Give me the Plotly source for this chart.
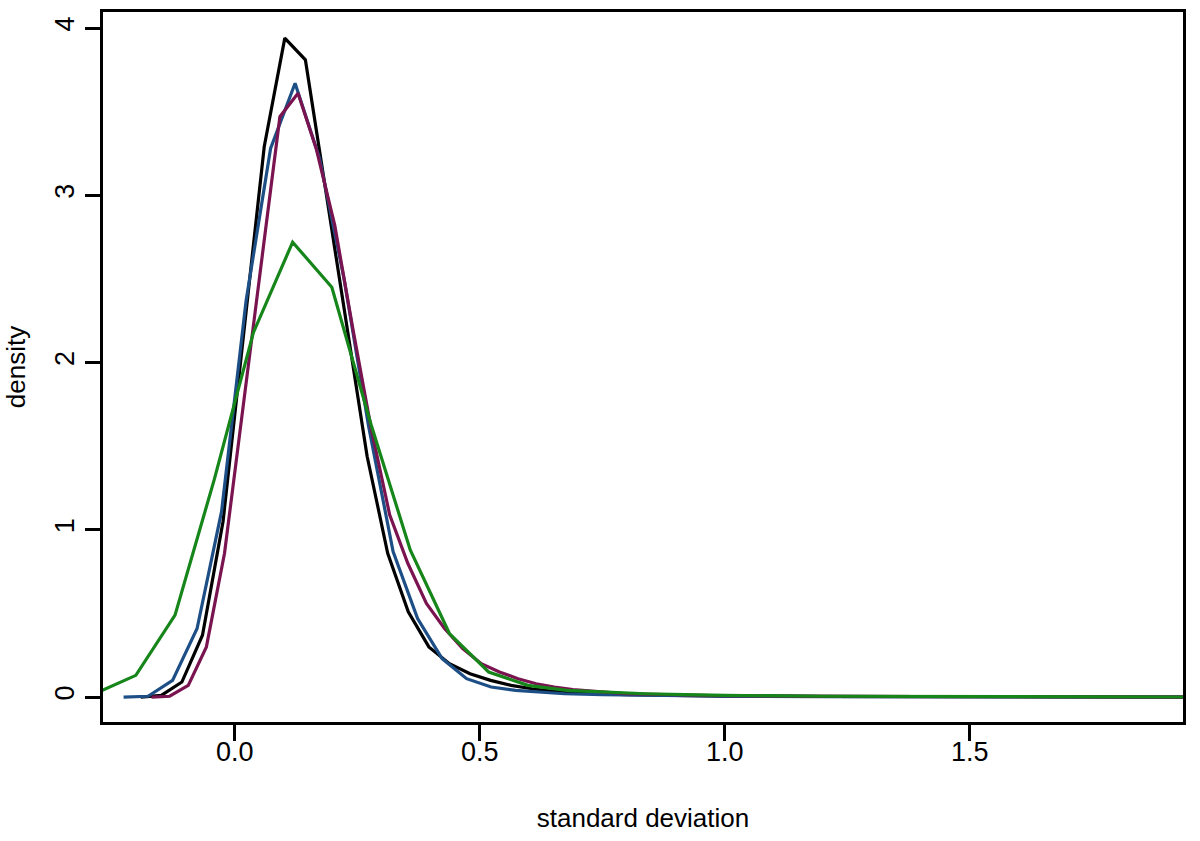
import plotly.graph_objects as go

# --- data ---
black_x = [-0.192, -0.15, -0.108, -0.066, -0.024, 0.018, 0.06, 0.102, 0.144, 0.186, 0.228, 0.27, 0.312,
           0.354, 0.396, 0.438, 0.48, 0.522, 0.564, 0.606, 0.648, 0.69, 0.8, 0.9, 1.0, 1.2, 1.4, 1.6, 2.0]
black_y = [0.0, 0.01, 0.09, 0.37, 1.05, 2.15, 3.29, 3.94, 3.81, 3.02, 2.24, 1.44, 0.86,
           0.51, 0.30, 0.20, 0.14, 0.10, 0.07, 0.05, 0.035, 0.025, 0.015, 0.01, 0.006, 0.004, 0.002, 0.001, 0.0]

blue_x = [-0.227, -0.177, -0.127, -0.077, -0.027, 0.023, 0.073, 0.123, 0.173, 0.223, 0.273, 0.323,
          0.373, 0.423, 0.473, 0.523, 0.573, 0.623, 0.673, 0.75, 0.85, 1.0, 1.2, 1.5, 2.0]
blue_y = [0.0, 0.005, 0.10, 0.41, 1.11, 2.37, 3.28, 3.67, 3.22, 2.5, 1.62, 0.87,
          0.47, 0.23, 0.11, 0.06, 0.04, 0.03, 0.02, 0.015, 0.01, 0.005, 0.003, 0.001, 0.0]

purple_x = [-0.170, -0.133, -0.095, -0.058, -0.021, 0.017, 0.054, 0.092, 0.129, 0.166, 0.204, 0.241,
            0.278, 0.316, 0.353, 0.391, 0.428, 0.465, 0.503, 0.540, 0.578, 0.615, 0.652, 0.69,
            0.8, 0.9, 1.0, 1.2, 1.5, 2.0]
purple_y = [0.0, 0.005, 0.07, 0.30, 0.86, 1.75, 2.58, 3.47, 3.61, 3.28, 2.82, 2.2,
            1.61, 1.09, 0.80, 0.56, 0.41, 0.29, 0.20, 0.15, 0.11, 0.08, 0.06, 0.045,
            0.02, 0.012, 0.008, 0.004, 0.002, 0.0]

green_x = [-0.282, -0.202, -0.122, -0.042, 0.038, 0.118, 0.198, 0.278, 0.358, 0.438, 0.518, 0.598,
           0.678, 0.758, 0.838, 0.918, 1.0, 1.2, 1.5, 2.0]
green_y = [0.025, 0.13, 0.49, 1.3, 2.18, 2.72, 2.45, 1.63, 0.88, 0.38, 0.15, 0.07,
           0.04, 0.03, 0.02, 0.015, 0.01, 0.005, 0.002, 0.0]

x_ticks = [0.0, 0.5, 1.0, 1.5]
x_tick_labels = ["0.0", "0.5", "1.0", "1.5"]
y_ticks = [0, 1, 2, 3, 4]
y_tick_labels = ["0", "1", "2", "3", "4"]

series = [
    (black_x, black_y, "#000000"),
    (blue_x, blue_y, "#1d4f86"),
    (purple_x, purple_y, "#7a1450"),
    (green_x, green_y, "#16861a"),
]

FONT = "Liberation Sans, Arial, sans-serif"

fig = go.Figure()
for xs, ys, col in series:
    fig.add_trace(go.Scatter(x=xs, y=ys, mode="lines",
                             line=dict(color=col, width=3.2), showlegend=False,
                             hoverinfo="skip"))

fig.update_layout(
    width=1200, height=841,
    margin=dict(l=103, r=17, t=12, b=119),
    paper_bgcolor="white", plot_bgcolor="white",
    font=dict(family=FONT, size=26, color="black"),
    xaxis=dict(range=[-0.269, 1.935], tickvals=x_ticks, ticktext=x_tick_labels,
               automargin=False, ticklabelstandoff=-12,
               tickfont=dict(family=FONT, size=27),
               showgrid=False, zeroline=False, showline=True, mirror=True,
               linecolor="black", linewidth=2.5, ticks="outside", ticklen=16,
               tickwidth=2.5, tickcolor="black",
               title=dict(text="standard deviation", standoff=43,
                          font=dict(family=FONT, size=26))),
    yaxis=dict(range=[-0.149, 4.096], tickvals=y_ticks, ticktext=y_tick_labels,
               tickangle=-90, automargin=False,
               tickfont=dict(family=FONT, size=27),
               showgrid=False, zeroline=False, showline=True, mirror=True,
               linecolor="black", linewidth=2.5, ticks="outside", ticklen=15,
               tickwidth=2.5, tickcolor="black",
               title=dict(text="density", standoff=18,
                          font=dict(family=FONT, size=26))),
)

fig.write_html("out.html", config={"displayModeBar": False},
               post_script="document.body.style.margin='0';document.body.style.overflow='hidden';")
